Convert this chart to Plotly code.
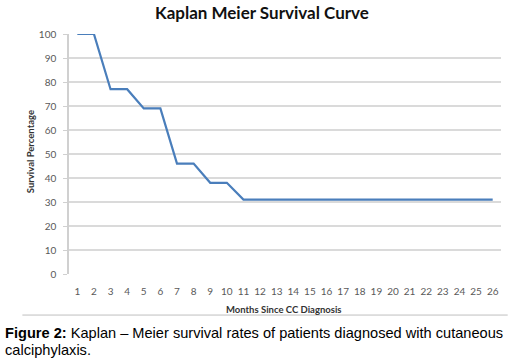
import plotly.graph_objects as go

months = list(range(1, 27))
survival = [100, 100, 77, 77, 69, 69, 46, 46, 38, 38, 31, 31, 31, 31, 31, 31,
            31, 31, 31, 31, 31, 31, 31, 31, 31, 31]
y_ticks = [0, 10, 20, 30, 40, 50, 60, 70, 80, 90, 100]

title_text = "Kaplan Meier Survival Curve"
x_title = "Months Since CC Diagnosis"
y_title = "Survival Percentage"
caption_line1 = "<b>Figure 2:</b> Kaplan – Meier survival rates of patients diagnosed with cutaneous"
caption_line2 = "calciphylaxis."

W, H = 531, 361
L, R, T, B = 68.7, 29.7, 34.3, 87
pw = W - L - R
ph = H - T - B

def px(x):
    return (x - L) / pw

def py(y):
    return (H - B - y) / ph

fig = go.Figure()
fig.add_trace(go.Scatter(
    x=months, y=survival, mode="lines",
    line=dict(color="#4a7ebb", width=2.2),
    showlegend=False, hoverinfo="skip",
))

tick_font = dict(family="Lato, 'Open Sans', sans-serif", size=10, color="#595959")
cap_font = dict(family="'Liberation Sans', Arial, sans-serif", size=14.6, color="#000000")
axis_title_font = dict(family="Lato, 'Open Sans', sans-serif", size=9.5, color="#333333")

fig.update_layout(
    width=W, height=H,
    margin=dict(l=L, r=R, t=T, b=B, pad=0),
    paper_bgcolor="white", plot_bgcolor="white",
    xaxis=dict(
        range=[0.5, 26.5], tickmode="array", tickvals=months,
        ticktext=[str(m) for m in months],
        showgrid=False, zeroline=False, showline=False,
        ticks="", tickfont=tick_font, ticklabelstandoff=10,
        fixedrange=True,
    ),
    yaxis=dict(
        range=[0, 100], tickmode="array", tickvals=y_ticks,
        showgrid=True, gridcolor="#dadada", gridwidth=1.6,
        zeroline=False, showline=True, linecolor="#d0d0d0", linewidth=1.5,
        ticks="outside", ticklen=4, tickcolor="#d0d0d0", tickwidth=1.2,
        tickfont=tick_font, ticklabelstandoff=5,
        fixedrange=True,
    ),
    annotations=[
        dict(text="<b>" + title_text + "</b>", xref="paper", yref="paper",
             x=px(262), y=py(13), xanchor="center", yanchor="middle",
             showarrow=False,
             font=dict(family="Lato, 'Open Sans', sans-serif", size=17, color="#111111")),
        dict(text="<b>" + x_title + "</b>", xref="paper", yref="paper",
             x=px(284), y=py(309), xanchor="center", yanchor="middle",
             showarrow=False, font=axis_title_font),
        dict(text="<b>" + y_title + "</b>", xref="paper", yref="paper",
             x=px(30), y=py(152), xanchor="center", yanchor="middle",
             textangle=-90, showarrow=False, font=axis_title_font),
        dict(text=caption_line1, xref="paper", yref="paper",
             x=px(2.5), y=py(332.5), xanchor="left", yanchor="middle", align="left",
             showarrow=False, font=cap_font),
        dict(text=caption_line2, xref="paper", yref="paper",
             x=px(2.5), y=py(349.5), xanchor="left", yanchor="middle", align="left",
             showarrow=False, font=cap_font),
    ],
    shapes=[
        dict(type="line", xref="paper", yref="paper",
             x0=px(22), x1=px(508), y0=py(315), y1=py(315),
             line=dict(color="#bfbfbf", width=1)),
    ],
)

fig.write_html("out.html", config={"displayModeBar": False},
               post_script="document.body.style.margin='0';")
